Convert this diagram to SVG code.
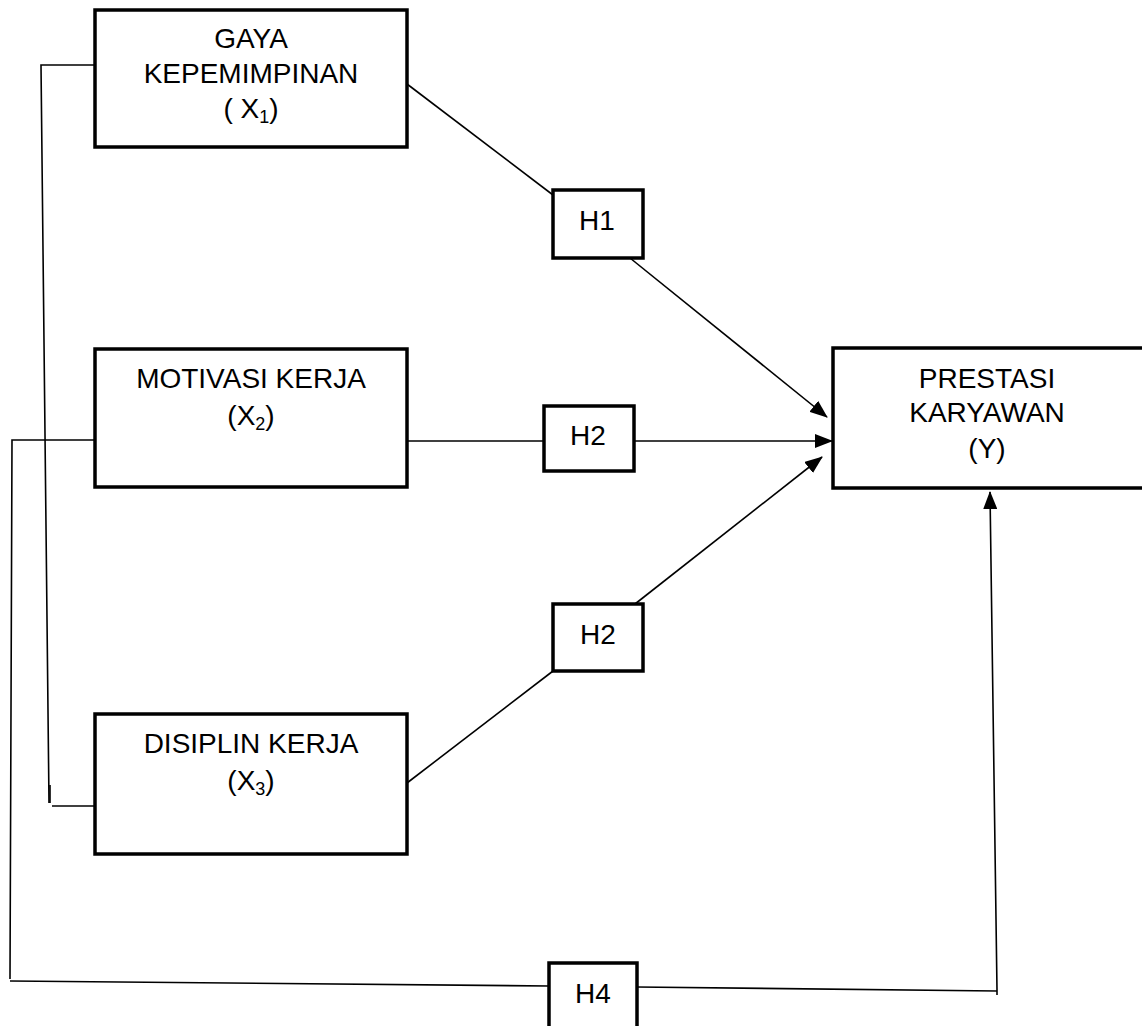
<svg xmlns="http://www.w3.org/2000/svg" width="1142" height="1026" viewBox="0 0 1142 1026">
<style>
.box{fill:#fff;stroke:#000;stroke-width:3.5}
.t{font-family:"Liberation Sans",Arial,sans-serif;font-size:28px;fill:#000;text-anchor:middle}
.c{fill:none;stroke:#000;stroke-width:1.6}
.s{font-size:18px}
</style>
<defs>
<marker id="arr" markerWidth="18" markerHeight="14" refX="17" refY="7" orient="auto" markerUnits="userSpaceOnUse">
<path d="M0,0 L18,7 L0,14 Z" fill="#000"/>
</marker>
</defs>
<g id="connectors">
<polyline class="c" points="95,65 41,65 49,803"/>
<line class="c" x1="50" y1="785" x2="50" y2="803" stroke-width="3"/>
<line class="c" x1="52" y1="806" x2="95" y2="806"/>
<polyline class="c" points="95,440 12,440 10,979"/>
<line class="c" x1="407" y1="84" x2="553" y2="195"/>
<line class="c" x1="630" y1="258" x2="827" y2="417" marker-end="url(#arr)"/>
<line class="c" x1="407" y1="441" x2="544" y2="441"/>
<line class="c" x1="634" y1="441" x2="832" y2="441" marker-end="url(#arr)"/>
<line class="c" x1="407" y1="783" x2="553" y2="671"/>
<line class="c" x1="635" y1="604" x2="822" y2="457" marker-end="url(#arr)"/>
<line class="c" x1="10" y1="981" x2="549" y2="986"/>
<line class="c" x1="637" y1="987" x2="997" y2="991"/>
<polyline class="c" points="997,995 997,990 990,492" marker-end="url(#arr)"/>
</g>
<g id="gaya">
<rect class="box" x="95" y="10" width="312" height="137"/>
<text class="t" x="251" y="48">GAYA</text>
<text class="t" x="251" y="83">KEPEMIMPINAN</text>
<text class="t" x="251" y="118">( X<tspan class="s" dy="5">1</tspan><tspan dy="-5">)</tspan></text>
</g>
<g id="motivasi">
<rect class="box" x="95" y="349" width="312" height="138"/>
<text class="t" x="251" y="388">MOTIVASI KERJA</text>
<text class="t" x="251" y="425">(X<tspan class="s" dy="5">2</tspan><tspan dy="-5">)</tspan></text>
</g>
<g id="disiplin">
<rect class="box" x="95" y="714" width="312" height="140"/>
<text class="t" x="251" y="753">DISIPLIN KERJA</text>
<text class="t" x="251" y="790">(X<tspan class="s" dy="5">3</tspan><tspan dy="-5">)</tspan></text>
</g>
<g id="prestasi">
<rect class="box" x="833" y="348" width="320" height="140"/>
<text class="t" x="987" y="388">PRESTASI</text>
<text class="t" x="987" y="422">KARYAWAN</text>
<text class="t" x="987" y="458">(Y)</text>
</g>
<g id="h1">
<rect class="box" x="553" y="190" width="90" height="68"/>
<text class="t" x="597" y="230">H1</text>
</g>
<g id="h2a">
<rect class="box" x="544" y="406" width="90" height="65"/>
<text class="t" x="588" y="445">H2</text>
</g>
<g id="h2b">
<rect class="box" x="553" y="604" width="90" height="67"/>
<text class="t" x="598" y="644">H2</text>
</g>
<g id="h4">
<rect class="box" x="549" y="963" width="88" height="80"/>
<text class="t" x="593" y="1003">H4</text>
</g>
</svg>
